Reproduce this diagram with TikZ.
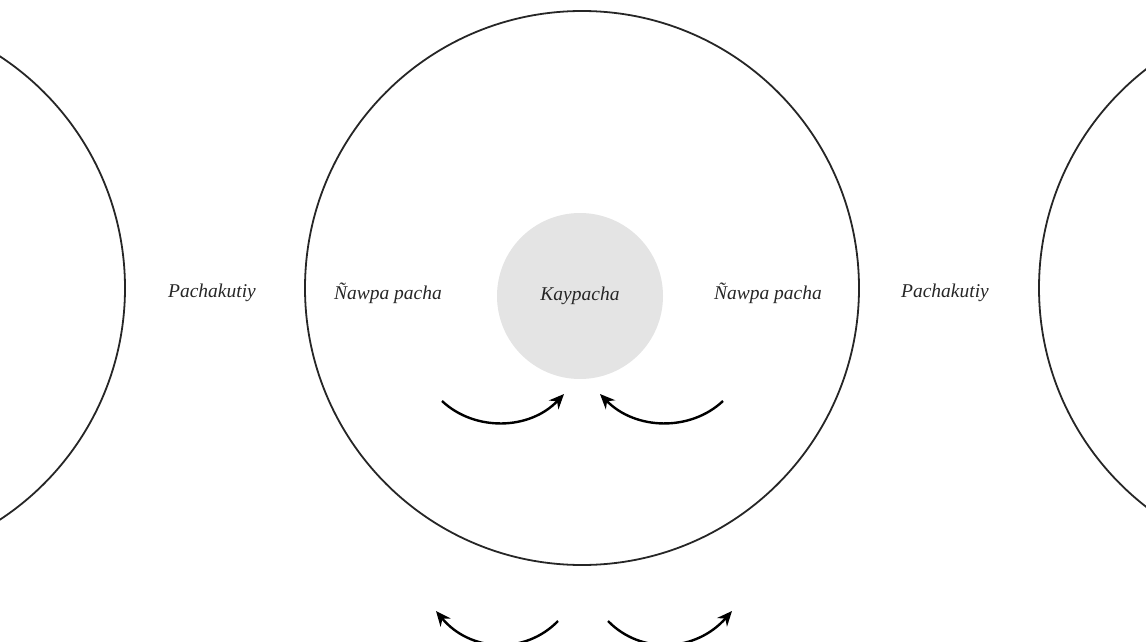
\documentclass[tikz,border=0pt]{standalone}
\usepackage{fontspec}
\setmainfont{Liberation Serif}
\usetikzlibrary{arrows.meta}
\definecolor{kaygray}{RGB}{228,228,228}
\tikzset{
  ring/.style={draw=black!85, line width=1.8pt},
  lbl/.style={font=\fontsize{19.5}{23}\selectfont\itshape, text=black!85, inner sep=0pt},
  flow/.style={draw=black, line width=2.4pt, -{Stealth[length=15pt,width=13pt]}},
}
\begin{document}
\begin{tikzpicture}[x=1pt,y=-1pt]
\useasboundingbox (0,0) rectangle (1146,642);
\clip (0,0) rectangle (1146,642);
% circles
\node[ring, circle, minimum size=554pt, inner sep=0pt] (main) at (582,288) {};
\node[ring, circle, minimum size=554pt, inner sep=0pt] (leftc) at (-152,288) {};
\node[ring, circle, minimum size=554pt, inner sep=0pt] (rightc) at (1316,288) {};
\node[circle, fill=kaygray, minimum size=166pt, inner sep=0pt] (kay) at (580,296) {};
% labels
\node[lbl] (kayt) at (kay.center) {Kaypacha};
\node[lbl] (pl) at (212,293) {Pachakutiy};
\node[lbl] (nl) at (388,293) {Ñawpa pacha};
\node[lbl] (nr) at (768,293) {Ñawpa pacha};
\node[lbl] (pr) at (945,293) {Pachakutiy};
% upper arrows
\coordinate (a1s) at (442,401);
\coordinate (a1e) at (564,394);
\coordinate (a2s) at (723,401);
\coordinate (a2e) at (600,394);
\draw[flow] (a1s) .. controls (475,432) and (530,430) .. (a1e);
\draw[flow] (a2s) .. controls (690,432) and (635,430) .. (a2e);
% lower arrows
\coordinate (b1s) at (558,621);
\coordinate (b1e) at (436,611);
\coordinate (b2s) at (608,621);
\coordinate (b2e) at (732,611);
\draw[flow] (b1s) .. controls (525,655) and (470,652) .. (b1e);
\draw[flow] (b2s) .. controls (641,655) and (696,652) .. (b2e);
\end{tikzpicture}
\end{document}
